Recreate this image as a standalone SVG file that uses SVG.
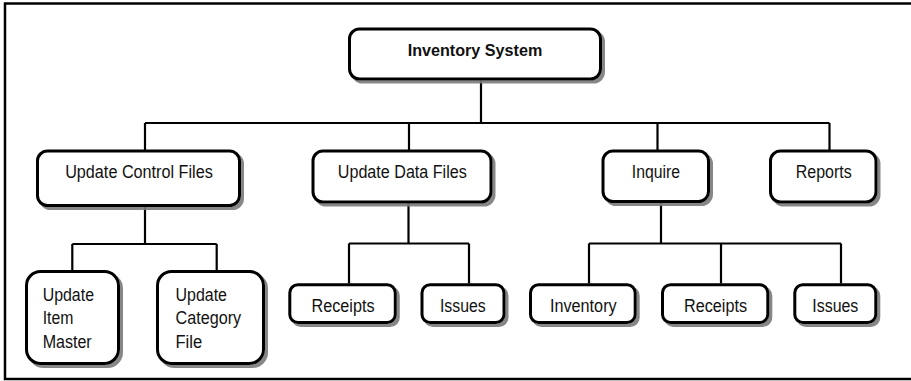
<svg xmlns="http://www.w3.org/2000/svg" width="911" height="381" viewBox="0 0 911 381">
<defs>
<filter id="sh" x="-10%" y="-10%" width="130%" height="140%">
<feDropShadow dx="3" dy="3" stdDeviation="0.6" flood-color="#7a7a7a" flood-opacity="0.9"/>
</filter>
</defs>
<style>
.box{fill:#fff;stroke:#000;stroke-width:3;filter:url(#sh)}
.t{font-family:"Liberation Sans",Arial,Helvetica,sans-serif;font-size:17.5px;fill:#111}
.c{text-anchor:middle}
.b{font-weight:bold;font-size:17px}
.ln{fill:none;stroke:#000;stroke-width:2.2}
</style>
<rect x="5" y="3.5" width="1000" height="375.5" fill="#fff" stroke="#000" stroke-width="2.5"/>
<g id="connectors" class="ln">
<path d="M481,80 V123 M145,123 H829.5 M145,123 V150 M409,123 V150 M657.5,123 V150 M829.5,123 V150"/>
<path d="M145,206 V244 M72.3,244 H216.7 M72.3,244 V270 M216.7,244 V270"/>
<path d="M408.5,202 V243.5 M349,243.5 H469 M349,243.5 V283.5 M469,243.5 V283.5"/>
<path d="M661,202 V243.5 M589,243.5 H841 M589,243.5 V283.5 M721,243.5 V283.5 M841,243.5 V283.5"/>
</g>
<g id="n-inventory-system">
<rect class="box" x="349.5" y="29" width="251" height="50" rx="10"/>
<text class="t c b" x="475" y="56" textLength="134.7" lengthAdjust="spacingAndGlyphs">Inventory System</text>
</g>
<g id="n-update-control-files">
<rect class="box" x="37.5" y="151" width="202" height="54.5" rx="10"/>
<text class="t c" x="139" y="178" textLength="147.7" lengthAdjust="spacingAndGlyphs">Update Control Files</text>
</g>
<g id="n-update-data-files">
<rect class="box" x="313" y="151" width="178" height="51" rx="10"/>
<text class="t c" x="402.3" y="178" textLength="129" lengthAdjust="spacingAndGlyphs">Update Data Files</text>
</g>
<g id="n-inquire">
<rect class="box" x="603" y="151" width="105.5" height="50.5" rx="10"/>
<text class="t c" x="656" y="178" textLength="48.3" lengthAdjust="spacingAndGlyphs">Inquire</text>
</g>
<g id="n-reports">
<rect class="box" x="770.5" y="151" width="105.5" height="51" rx="10"/>
<text class="t c" x="823.7" y="178" textLength="56" lengthAdjust="spacingAndGlyphs">Reports</text>
</g>
<g id="n-update-item-master">
<rect class="box" x="26.5" y="271.5" width="92" height="92" rx="14"/>
<text class="t" x="42.7" y="300.5" textLength="51.3" lengthAdjust="spacingAndGlyphs">Update</text>
<text class="t" x="42.7" y="324" textLength="30.7" lengthAdjust="spacingAndGlyphs">Item</text>
<text class="t" x="42.7" y="347.5" textLength="49" lengthAdjust="spacingAndGlyphs">Master</text>
</g>
<g id="n-update-category-file">
<rect class="box" x="157.5" y="271.5" width="106" height="92" rx="14"/>
<text class="t" x="175.5" y="300.5" textLength="51.5" lengthAdjust="spacingAndGlyphs">Update</text>
<text class="t" x="175.5" y="324" textLength="65.7" lengthAdjust="spacingAndGlyphs">Category</text>
<text class="t" x="175.5" y="347.5" textLength="26.7" lengthAdjust="spacingAndGlyphs">File</text>
</g>
<g id="n-receipts-data">
<rect class="box" x="289.8" y="284.8" width="105.5" height="37.7" rx="8"/>
<text class="t c" x="343" y="312" textLength="63" lengthAdjust="spacingAndGlyphs">Receipts</text>
</g>
<g id="n-issues-data">
<rect class="box" x="422" y="284.8" width="82" height="37.7" rx="8"/>
<text class="t c" x="462.8" y="312" textLength="45.7" lengthAdjust="spacingAndGlyphs">Issues</text>
</g>
<g id="n-inventory">
<rect class="box" x="530.5" y="284.8" width="104.7" height="37.7" rx="8"/>
<text class="t c" x="583.3" y="312" textLength="66.7" lengthAdjust="spacingAndGlyphs">Inventory</text>
</g>
<g id="n-receipts-inquire">
<rect class="box" x="662.5" y="284.8" width="105.3" height="37.7" rx="8"/>
<text class="t c" x="715.5" y="312" textLength="63" lengthAdjust="spacingAndGlyphs">Receipts</text>
</g>
<g id="n-issues-inquire">
<rect class="box" x="794.8" y="284.8" width="81" height="37.7" rx="8"/>
<text class="t c" x="835.3" y="312" textLength="46" lengthAdjust="spacingAndGlyphs">Issues</text>
</g>
</svg>
